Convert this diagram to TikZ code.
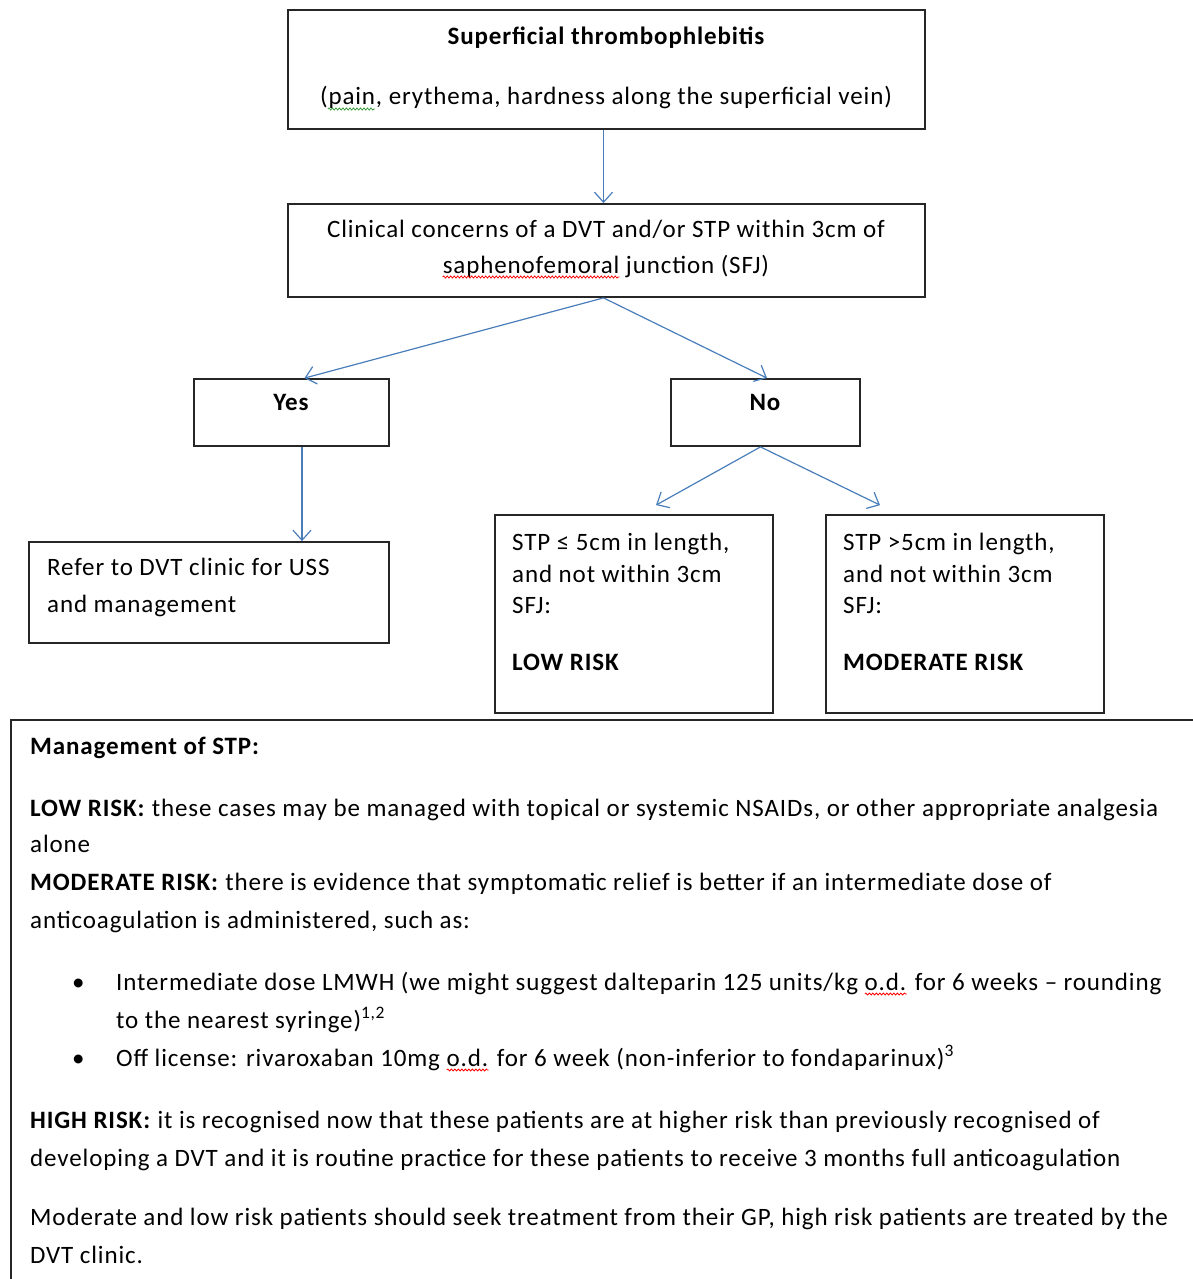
\documentclass[tikz,border=0pt]{standalone}
\usepackage{fontspec}
\setmainfont{Carlito}[LetterSpace=3.5]
\usetikzlibrary{arrows.meta,decorations.pathmorphing}
\definecolor{arrowblue}{HTML}{4A7EBB}
\definecolor{sqgreen}{HTML}{3C9A3C}
\newcommand\fsz{\fontsize{25}{30}\selectfont}
\begin{document}
\begin{tikzpicture}[x=1pt,y=-1pt,
  box/.style={draw=black!85,line width=1.8pt,inner sep=0pt},
  conn/.style={draw=arrowblue,line width=1.2pt,-{Straight Barb[length=10pt,width=18pt,line width=1.2pt]}},
  txt/.style={inner sep=0pt,anchor=base,font=\fsz},
  btxt/.style={inner sep=0pt,anchor=base,font=\fsz\bfseries},
  ltxt/.style={inner sep=0pt,anchor=base west,font=\fsz},
  lbtxt/.style={inner sep=0pt,anchor=base west,font=\fsz\bfseries},
  ghost/.style={inner sep=0pt,anchor=base west,font=\fsz},
  squig/.style={line width=0.8pt,decorate,decoration={snake,segment length=3.5pt,amplitude=1pt}},
]
\useasboundingbox (0,0) rectangle (1193,1279);
\fill[white] (0,0) rectangle (1193,1279);

% boxes
\node[box,minimum width=637pt,minimum height=119pt] (b1) at (606.5,69.5) {};
\node[box,minimum width=637pt,minimum height=93pt] (b2) at (606.5,250.5) {};
\node[box,minimum width=195pt,minimum height=67pt] (yes) at (291.5,412.5) {};
\node[box,minimum width=189pt,minimum height=67pt] (no) at (765.5,412.5) {};
\node[box,minimum width=360pt,minimum height=101pt] (refer) at (209,592.5) {};
\node[box,minimum width=278pt,minimum height=198pt] (low) at (634,614) {};
\node[box,minimum width=278pt,minimum height=198pt] (mod) at (965,614) {};
\node[box,minimum width=1200pt,minimum height=580pt] (mgmt) at (611,1010) {};

% connectors
\draw[conn] ([xshift=-3pt]b1.south) -- ([xshift=-3pt]b2.north);
\draw[conn] ([xshift=-3pt]b2.south) -- ([xshift=13pt]yes.north);
\draw[conn] ([xshift=-3pt]b2.south) -- ([xshift=1.5pt]no.north);
\draw[conn] ([xshift=10.5pt]yes.south) -- ([xshift=93pt]refer.north);
\draw[conn] ([xshift=-5pt]no.south) -- ([xshift=22pt,yshift=9pt]low.north);
\draw[conn] ([xshift=-5pt]no.south) -- ([xshift=-85pt,yshift=9pt]mod.north);

% texts
\node[btxt] (t1a) at (606,45) {Superficial thrombophlebitis};
\node[txt] (t1b) at (606,105) {(pain, erythema, hardness along the superficial vein)};
\node[txt] (t2a) at (606,237) {Clinical concerns of a DVT and/or STP within 3cm of};
\node[txt] (t2b) at (606,273) {saphenofemoral junction (SFJ)};
\node[btxt] (tyes) at (291,410) {Yes};
\node[btxt] (tno) at (765,410) {No};

\node[ltxt] (r1) at (47,575) {Refer to DVT clinic for USS};
\node[ltxt] (r2) at (47,612) {and management};

\node[ltxt] (l1) at (512,550) {STP ≤ 5cm in length,};
\node[ltxt] (l2) at (512,582) {and not within 3cm};
\node[ltxt] (l3) at (512,613) {SFJ:};
\node[lbtxt] (l4) at (512,670) {LOW RISK};

\node[ltxt] (m1) at (843,550) {STP >5cm in length,};
\node[ltxt] (m2) at (843,582) {and not within 3cm};
\node[ltxt] (m3) at (843,613) {SFJ:};
\node[lbtxt] (m4) at (843,670) {MODERATE RISK};

\node[lbtxt] (g1) at (30,754) {Management of STP:};
\node[ltxt] (g2) at (30,816) {\textbf{LOW RISK:} these cases may be managed with topical or systemic NSAIDs, or other appropriate analgesia};
\node[ltxt] (g3) at (30,852) {alone};
\node[ltxt] (g4) at (30,890) {\textbf{MODERATE RISK:} there is evidence that symptomatic relief is better if an intermediate dose of};
\node[ltxt] (g5) at (30,928) {anticoagulation is administered, such as:};
\node[ltxt] (bu1) at (72,990) {•};
\node[ltxt] (g6) at (116,990) {Intermediate dose LMWH (we might suggest dalteparin 125 units/kg o.d. for 6 weeks – rounding};
\node[ltxt] (g7) at (116,1028) {to the nearest syringe)\textsuperscript{1,2}};
\node[ltxt] (bu2) at (72,1066) {•};
\node[ltxt] (g8) at (116,1066) {Off license: rivaroxaban 10mg o.d. for 6 week (non-inferior to fondaparinux)\textsuperscript{3}};
\node[ltxt] (g9) at (30,1128) {\textbf{HIGH RISK:} it is recognised now that these patients are at higher risk than previously recognised of};
\node[ltxt] (g10) at (30,1166) {developing a DVT and it is routine practice for these patients to receive 3 months full anticoagulation};
\node[ltxt] (g11) at (30,1225) {Moderate and low risk patients should seek treatment from their GP, high risk patients are treated by the};
\node[ltxt] (g12) at (30,1263) {DVT clinic.};

% spell-check squiggles (positions measured with invisible phantoms)
\node[ghost] (pa0) at (t1b.base west) {\phantom{(}};
\node[ghost] (pa) at (pa0.base east) {\phantom{pain}};
\draw[squig,sqgreen] ([yshift=-4pt]pa.base west) -- ([yshift=-4pt]pa.base east);
\node[ghost] (sa) at (t2b.base west) {\phantom{saphenofemoral}};
\draw[squig,red] ([yshift=-4pt]sa.base west) -- ([yshift=-4pt]sa.base east);
\node[ghost] (od0) at (g6.base west) {\phantom{Intermediate dose LMWH (we might suggest dalteparin 125 units/kg\ }};
\node[ghost] (od) at (od0.base east) {\phantom{o.d.}};
\draw[squig,red] ([yshift=-4pt]od.base west) -- ([yshift=-4pt]od.base east);
\node[ghost] (oe0) at (g8.base west) {\phantom{Off license: rivaroxaban 10mg\ }};
\node[ghost] (oe) at (oe0.base east) {\phantom{o.d.}};
\draw[squig,red] ([yshift=-4pt]oe.base west) -- ([yshift=-4pt]oe.base east);
\end{tikzpicture}
\end{document}
